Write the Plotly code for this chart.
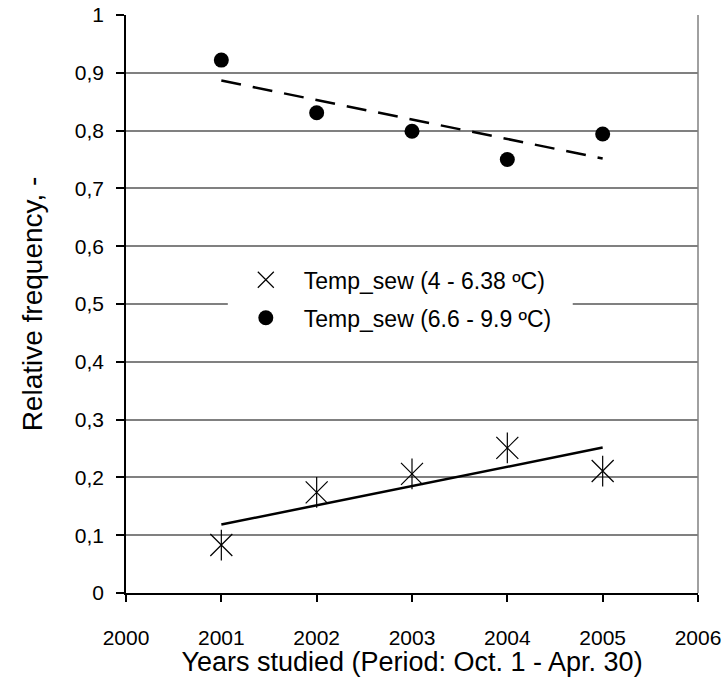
import numpy as np
import plotly.graph_objects as go

# Study years and relative frequencies for the two sewage temperature ranges
years = [2001, 2002, 2003, 2004, 2005]
freq_low = [0.083, 0.174, 0.206, 0.251, 0.211]    # Temp_sew (4 - 6.38 ºC)
freq_high = [0.922, 0.831, 0.799, 0.750, 0.794]   # Temp_sew (6.6 - 9.9 ºC)

name_low = "Temp_sew (4 - 6.38 ºC)"
name_high = "Temp_sew (6.6 - 9.9 ºC)"

x_tick_vals = [2000, 2001, 2002, 2003, 2004, 2005, 2006]
x_tick_labels = ["2000", "2001", "2002", "2003", "2004", "2005", "2006"]
y_tick_vals = [0, 0.1, 0.2, 0.3, 0.4, 0.5, 0.6, 0.7, 0.8, 0.9, 1.0]
y_tick_labels = ["0", "0,1", "0,2", "0,3", "0,4", "0,5", "0,6", "0,7", "0,8", "0,9", "1"]

x_title = "Years studied (Period: Oct. 1 - Apr. 30)"
y_title = "Relative frequency, -"

FONT = "Liberation Sans, Arial, sans-serif"

# Linear trend lines (least squares) over the studied years
yrs = np.array(years, dtype=float)
fit_low = np.polyfit(yrs, freq_low, 1)
fit_high = np.polyfit(yrs, freq_high, 1)
trend_x = [yrs.min(), yrs.max()]

fig = go.Figure()

fig.add_trace(go.Scatter(
    x=trend_x, y=np.polyval(fit_low, trend_x), mode="lines",
    line=dict(color="black", width=2.5), showlegend=False, hoverinfo="skip"))
fig.add_trace(go.Scatter(
    x=trend_x, y=np.polyval(fit_high, trend_x), mode="lines",
    line=dict(color="black", width=2.5, dash="20px,12px"),
    showlegend=False, hoverinfo="skip"))

# Six-armed star: an X plus a vertical stroke
fig.add_trace(go.Scatter(
    x=years, y=freq_low, mode="markers", name=name_low, legendgroup="low",
    marker=dict(symbol="x-thin-open", size=22, color="black",
                line=dict(color="black", width=1.2))))
fig.add_trace(go.Scatter(
    x=years, y=freq_low, mode="markers", legendgroup="low", showlegend=False,
    marker=dict(symbol="line-ns-open", size=22, color="black",
                line=dict(color="black", width=1.2)), hoverinfo="skip"))
fig.add_trace(go.Scatter(
    x=years, y=freq_high, mode="markers", name=name_high, legendgroup="high",
    marker=dict(symbol="circle", size=15, color="black")))

fig.update_layout(
    width=727, height=677,
    margin=dict(l=126, r=29, t=14.5, b=83.5, autoexpand=False),
    paper_bgcolor="white", plot_bgcolor="white",
    font=dict(family=FONT, color="black", size=21),
    showlegend=True,
    legend=dict(
        x=0.178, xanchor="left", y=0.579, yanchor="top",
        bgcolor="white", borderwidth=0,
        font=dict(family=FONT, size=23, color="black"),
        tracegroupgap=5, itemwidth=66,
    ),
    xaxis=dict(
        range=[2000, 2006], tickvals=x_tick_vals, ticktext=x_tick_labels,
        showgrid=False, zeroline=False, automargin=False,
        showline=True, linecolor="black", linewidth=1.5,
        ticks="outside", ticklen=7, tickcolor="black", tickwidth=1.5,
        ticklabelstandoff=18,
        tickfont=dict(family=FONT, size=21),
        title=dict(text=x_title, font=dict(family=FONT, size=27), standoff=0),
    ),
    yaxis=dict(
        range=[0, 1], tickvals=y_tick_vals, ticktext=y_tick_labels,
        showgrid=True, gridcolor="#808080", gridwidth=1.5, zeroline=False,
        automargin=False,
        showline=True, linecolor="black", linewidth=1.5,
        ticks="outside", ticklen=8, tickcolor="black", tickwidth=1.5,
        ticklabelstandoff=8,
        tickfont=dict(family=FONT, size=21),
        title=dict(text=y_title, font=dict(family=FONT, size=28), standoff=24),
    ),
)

# White panel behind the legend, slightly wider than the legend box itself
fig.add_shape(type="rect", xref="paper", yref="paper",
              x0=0.178, x1=0.781, y0=0.43, y1=0.57,
              fillcolor="white", line=dict(width=0), layer="above")

# Right border of the plot area
fig.add_shape(type="line", xref="paper", yref="paper", x0=1, x1=1, y0=0, y1=1,
              line=dict(color="#808080", width=1.5))

fig.write_html("out.html")
